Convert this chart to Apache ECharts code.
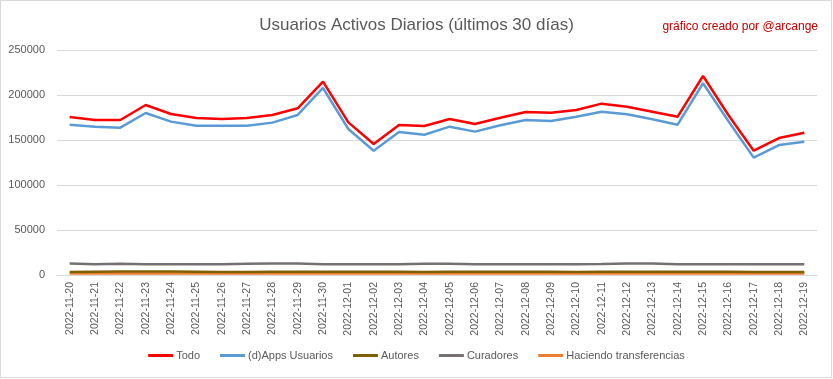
<!DOCTYPE html>
<html>
<head>
<meta charset="utf-8">
<script src="https://cdn.jsdelivr.net/npm/echarts@6/dist/echarts.min.js"></script>
<style>
html,body{margin:0;padding:0;background:#fff;}
#c{width:833px;height:379px;}
</style>
</head>
<body>
<div id="c"></div>
<script>
const categories = ["2022-11-20","2022-11-21","2022-11-22","2022-11-23","2022-11-24","2022-11-25","2022-11-26","2022-11-27","2022-11-28","2022-11-29","2022-11-30","2022-12-01","2022-12-02","2022-12-03","2022-12-04","2022-12-05","2022-12-06","2022-12-07","2022-12-08","2022-12-09","2022-12-10","2022-12-11","2022-12-12","2022-12-13","2022-12-14","2022-12-15","2022-12-16","2022-12-17","2022-12-18","2022-12-19"];
const todo = [175500,172200,172200,188900,178900,174400,173300,174400,177800,185200,214800,169600,145600,166700,165600,173300,167800,174800,181100,180400,183300,190400,187000,181500,175900,221100,177800,138100,152200,158100];
const dapps = [167000,164800,163700,180000,170400,165900,165900,165900,169300,177800,207800,162200,138100,158900,155900,164800,159300,166300,172200,171100,175900,181500,178500,173000,167000,213000,171100,130400,144400,148100];
const autores = [3200,3700,3800,3800,3800,3700,3200,3200,3700,3700,3700,3700,3700,3700,3200,3700,3700,3700,3700,3700,3200,3700,3700,3700,3700,3700,3700,3200,3200,3200];
const curadores = [12800,12000,12600,12000,12000,12000,12000,12600,12800,12800,12000,12000,12000,12000,12600,12600,12000,12000,12000,12000,12000,12200,12800,12800,12000,12000,12000,12000,12000,12000];
const transferencias = [1800,1800,1800,1800,1800,1800,1800,1800,1800,1800,1800,1800,1800,1800,1800,1800,1800,1800,1800,1800,1800,1800,1800,1800,1800,1800,1800,1800,1800,1800];
const yTicks = [0,50000,100000,150000,200000,250000];

const FONT = '"Liberation Sans", sans-serif';
const chart = echarts.init(document.getElementById('c'), null, {renderer:'canvas'});
function mk(name, data, color, width){
  return {name, type:'line', data, symbol:'none', smooth:false,
    lineStyle:{color, width}, itemStyle:{color}, animation:false};
}
chart.setOption({
  animation:false,
  backgroundColor:'#fff',
  textStyle:{fontFamily:FONT},
  title:[{
    text:'Usuarios Activos Diarios (últimos 30 días)',
    left:'center', top:12,
    textStyle:{fontFamily:FONT, fontSize:17, fontWeight:'normal', color:'#595959'}
  },{
    text:'gráfico creado por @arcange',
    right:10, top:16,
    textStyle:{fontFamily:FONT, fontSize:12, fontWeight:'normal', color:'#C00000'}
  }],
  grid:{left:57, right:16, top:50, bottom:104, containLabel:false},
  legend:{
    bottom:13, left:'center',
    itemWidth:25, itemHeight:3, itemGap:20, icon:'rect',
    textStyle:{fontFamily:FONT, fontSize:11, color:'#595959', padding:[0,0,0,-2]},
    data:['Todo','(d)Apps Usuarios','Autores','Curadores','Haciendo transferencias']
  },
  xAxis:{
    type:'category', data:categories, boundaryGap:true,
    axisLine:{lineStyle:{color:'#D9D9D9'}},
    axisTick:{show:false},
    axisLabel:{rotate:90, interval:0, fontSize:10.5, color:'#595959', fontFamily:FONT, margin:7}
  },
  yAxis:{
    type:'value', min:0, max:250000, interval:50000,
    axisLine:{show:false}, axisTick:{show:false},
    splitLine:{lineStyle:{color:'#D9D9D9'}},
    axisLabel:{fontSize:11, color:'#595959', fontFamily:FONT, margin:12,
      formatter:v => yTicks.includes(v) ? String(v) : ''}
  },
  series:[
    mk('Haciendo transferencias', transferencias, '#ED7D31', 2.5),
    mk('Autores', autores, '#7F6000', 2.5),
    mk('Curadores', curadores, '#767171', 2.5),
    mk('(d)Apps Usuarios', dapps, '#5B9BD5', 2.5),
    mk('Todo', todo, '#FF0000', 2.5)
  ],
  graphic:[{type:'rect', shape:{x:0.5,y:0.5,width:831,height:377}, style:{fill:'none', stroke:'#D9D9D9', lineWidth:1}, silent:true}]
});
</script>
</body>
</html>
